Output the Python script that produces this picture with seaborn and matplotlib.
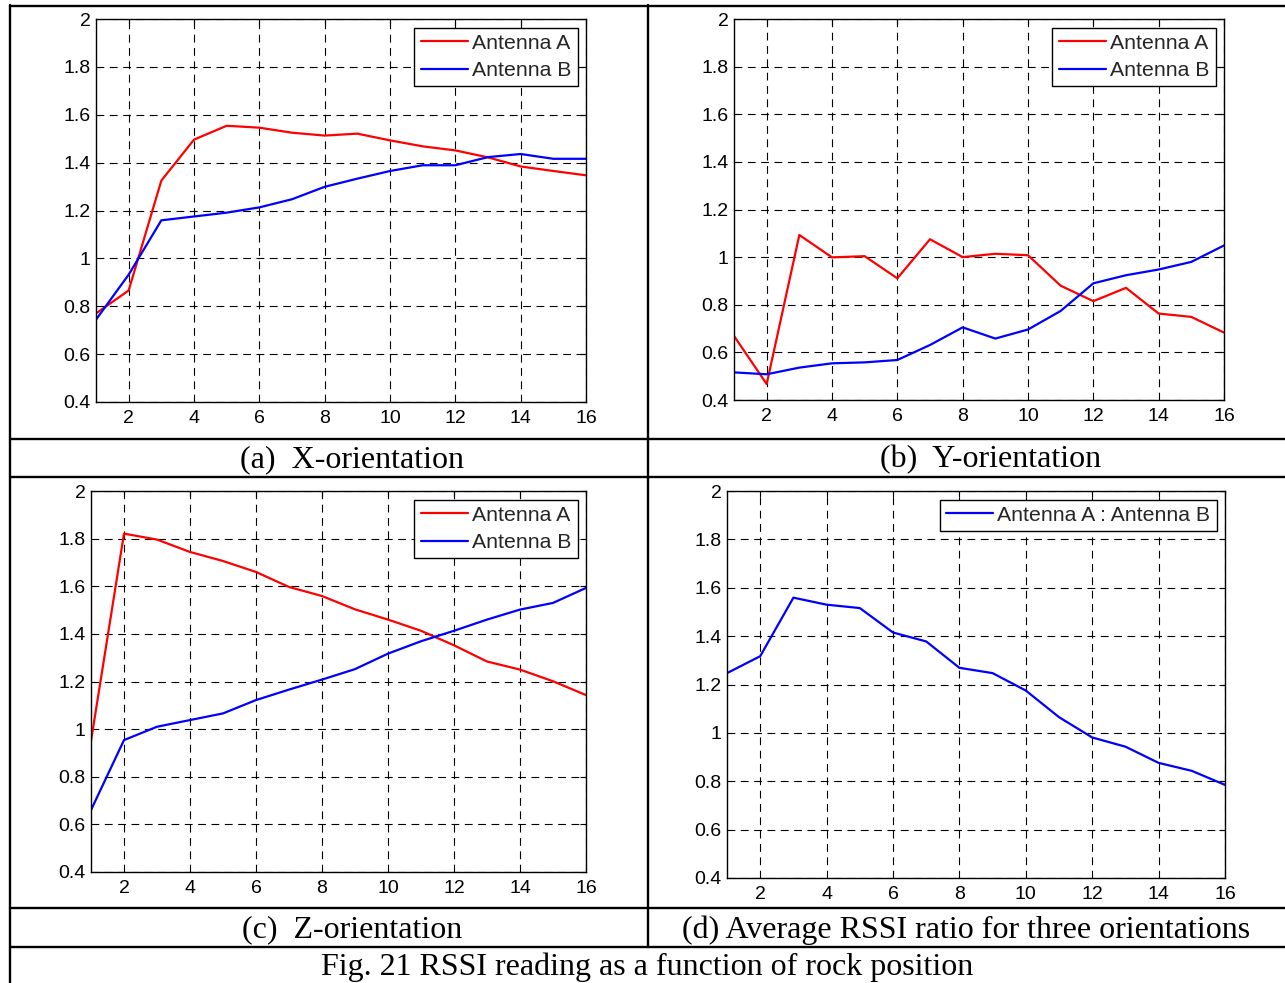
import numpy as np
import pandas as pd
import matplotlib
matplotlib.use("Agg")
import matplotlib.pyplot as plt
from matplotlib.lines import Line2D
import seaborn as sns

# ---------------- data ----------------
positions = list(range(1, 17))

x_ant_a = [0.77, 0.866, 1.325, 1.496, 1.554, 1.546, 1.525, 1.513, 1.521, 1.493, 1.468, 1.451, 1.422, 1.384, 1.365, 1.347]
x_ant_b = [0.744, 0.932, 1.159, 1.175, 1.191, 1.213, 1.247, 1.299, 1.333, 1.365, 1.389, 1.389, 1.423, 1.436, 1.416, 1.416]

y_ant_a = [0.669, 0.467, 1.093, 0.999, 1.004, 0.911, 1.075, 1.0, 1.014, 1.008, 0.880, 0.815, 0.871, 0.763, 0.749, 0.683]
y_ant_b = [0.516, 0.508, 0.536, 0.554, 0.558, 0.568, 0.631, 0.705, 0.658, 0.696, 0.774, 0.890, 0.924, 0.948, 0.980, 1.049]

z_ant_a = [0.950, 1.821, 1.796, 1.744, 1.706, 1.660, 1.597, 1.559, 1.503, 1.460, 1.413, 1.352, 1.284, 1.250, 1.201, 1.143]
z_ant_b = [0.660, 0.954, 1.010, 1.038, 1.066, 1.122, 1.166, 1.208, 1.252, 1.317, 1.369, 1.413, 1.460, 1.502, 1.530, 1.593]

avg_ratio = [1.247, 1.317, 1.559, 1.530, 1.516, 1.415, 1.378, 1.269, 1.247, 1.175, 1.065, 0.981, 0.943, 0.876, 0.843, 0.785]

x_ticks = [2, 4, 6, 8, 10, 12, 14, 16]
y_ticks = [0.4, 0.6, 0.8, 1.0, 1.2, 1.4, 1.6, 1.8, 2.0]
y_tick_labels = ["0.4", "0.6", "0.8", "1", "1.2", "1.4", "1.6", "1.8", "2"]

series_labels = ["Antenna A", "Antenna B"]
ratio_label = "Antenna A : Antenna B"

captions = ["(a)  X-orientation", "(b)  Y-orientation", "(c)  Z-orientation",
            "(d) Average RSSI ratio for three orientations"]
fig_caption = "Fig. 21 RSSI reading as a function of rock position"

# ---------------- style ----------------
sns.set_style("white")
plt.rcParams["font.family"] = ["Liberation Sans", "DejaVu Sans"]

W, H = 1285, 983
fig = plt.figure(figsize=(W / 100, H / 100), dpi=100)
fig.patch.set_facecolor("white")


def fig_rect(left, top, right, bottom):
    return [left / W, 1 - bottom / H, (right - left) / W, (bottom - top) / H]


def style_axes(ax):
    ax.set_xlim(1, 16)
    ax.set_ylim(0.4, 2)
    ax.set_xticks(x_ticks)
    ax.set_xticklabels([str(t) for t in x_ticks])
    ax.set_yticks(y_ticks)
    ax.set_yticklabels(y_tick_labels)
    ax.tick_params(axis="both", direction="in", length=4, width=0.8,
                   top=True, right=True, labelsize=14, colors="black")
    ax.tick_params(axis="x", pad=6)
    ax.tick_params(axis="y", pad=4)
    ax.grid(True, color="black", linewidth=0.8, linestyle=(0, (7, 5)))
    for s in ax.spines.values():
        s.set_color("black")
        s.set_linewidth(1.0)
    ax.set_xlabel("")
    ax.set_ylabel("")


def add_legend(ax):
    leg = ax.legend(loc="upper right", fontsize=15.3, frameon=True, fancybox=False,
                    framealpha=1, edgecolor="black", handlelength=2.2,
                    handletextpad=0.2, borderpad=0.3, labelspacing=0.38,
                    borderaxespad=0.4)
    leg.get_frame().set_linewidth(1.0)


panels = [
    (fig_rect(96, 19, 586, 402), x_ant_a, x_ant_b),
    (fig_rect(734, 19, 1224, 400), y_ant_a, y_ant_b),
    (fig_rect(91, 491, 586, 872), z_ant_a, z_ant_b),
]

for rect, a_vals, b_vals in panels:
    ax = fig.add_axes(rect)
    df = pd.DataFrame({"pos": positions * 2,
                       "rssi": a_vals + b_vals,
                       "ant": [series_labels[0]] * 16 + [series_labels[1]] * 16})
    sns.lineplot(data=df, x="pos", y="rssi", hue="ant",
                 palette={series_labels[0]: "#ff0000", series_labels[1]: "#0000ff"},
                 linewidth=1.6, ax=ax)
    style_axes(ax)
    add_legend(ax)

ax = fig.add_axes(fig_rect(727, 491, 1225, 878))
df = pd.DataFrame({"pos": positions, "ratio": avg_ratio})
sns.lineplot(data=df, x="pos", y="ratio", color="#0000ff", linewidth=1.6,
             label=ratio_label, ax=ax)
style_axes(ax)
add_legend(ax)

# ---------------- table lines ----------------
def hline(y, x0=10, x1=1285, lw=1.7):
    fig.add_artist(Line2D([x0 / W, x1 / W], [1 - y / H, 1 - y / H],
                          color="black", linewidth=lw, transform=fig.transFigure))


def vline(x, y0, y1, lw=1.7):
    fig.add_artist(Line2D([x / W, x / W], [1 - y0 / H, 1 - y1 / H],
                          color="black", linewidth=lw, transform=fig.transFigure))


hline(6)
hline(438.5)
hline(477)
hline(908)
hline(946.5)
vline(10, 5, 983)
vline(648, 5, 946.5)

# ---------------- captions ----------------
cap_font = dict(family=["Liberation Serif", "DejaVu Serif"], fontsize=23,
                color="black", ha="center", va="center")
fig.text(352 / W, 1 - 460 / H, captions[0], **cap_font)
fig.text(991 / W, 1 - 460 / H, captions[1], **cap_font)
fig.text(352 / W, 1 - 930 / H, captions[2], **cap_font)
fig.text(966 / W, 1 - 930 / H, captions[3], **cap_font)
fig.text(647 / W, 1 - 967 / H, fig_caption, **cap_font)

fig.savefig("out.png", dpi=100, facecolor="white")
